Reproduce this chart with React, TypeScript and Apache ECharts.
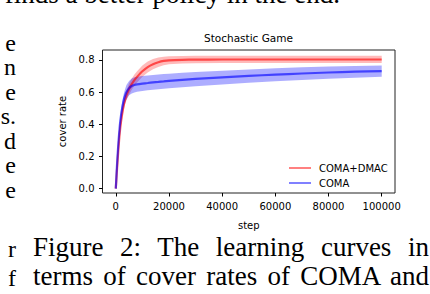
import React, { useEffect, useRef } from "react";
import * as echarts from "echarts";

const steps = [0, 500, 1000, 1500, 2000, 2500, 3000, 3500, 4000, 5000, 6000, 7000, 8000, 10000, 12000, 14000, 16000, 18000, 20000, 25000, 30000, 40000, 50000, 60000, 70000, 80000, 90000, 100000];

const dmacMean = [0, 0.13, 0.25, 0.35, 0.42, 0.475, 0.52, 0.553, 0.58, 0.62, 0.65, 0.675, 0.695, 0.73, 0.756, 0.774, 0.786, 0.794, 0.798, 0.801, 0.802, 0.803, 0.803, 0.803, 0.803, 0.803, 0.803, 0.803];
const dmacHi = [0, 0.15, 0.28, 0.38, 0.45, 0.505, 0.55, 0.583, 0.61, 0.655, 0.685, 0.71, 0.73, 0.765, 0.79, 0.806, 0.815, 0.82, 0.823, 0.825, 0.826, 0.826, 0.826, 0.826, 0.826, 0.826, 0.826, 0.826];
const dmacLo = [0, 0.11, 0.22, 0.32, 0.39, 0.445, 0.49, 0.523, 0.55, 0.585, 0.615, 0.64, 0.66, 0.695, 0.722, 0.742, 0.757, 0.767, 0.773, 0.778, 0.78, 0.781, 0.781, 0.781, 0.781, 0.781, 0.781, 0.781];

const comaMean = [0, 0.16, 0.29, 0.39, 0.46, 0.51, 0.55, 0.578, 0.6, 0.625, 0.638, 0.644, 0.648, 0.653, 0.657, 0.661, 0.664, 0.667, 0.67, 0.676, 0.682, 0.692, 0.701, 0.709, 0.716, 0.722, 0.727, 0.731];
const comaHi = [0, 0.18, 0.32, 0.42, 0.5, 0.55, 0.59, 0.62, 0.645, 0.67, 0.685, 0.692, 0.696, 0.701, 0.704, 0.707, 0.71, 0.713, 0.715, 0.72, 0.725, 0.733, 0.741, 0.748, 0.754, 0.759, 0.763, 0.766];
const comaLo = [0, 0.14, 0.26, 0.36, 0.42, 0.47, 0.51, 0.536, 0.555, 0.58, 0.592, 0.598, 0.602, 0.607, 0.611, 0.615, 0.618, 0.621, 0.624, 0.63, 0.637, 0.648, 0.658, 0.667, 0.676, 0.684, 0.69, 0.695];

const xTicks = [0, 20000, 40000, 60000, 80000, 100000];
const yTicks = [0, 0.2, 0.4, 0.6, 0.8];
const seriesNames = ["COMA+DMAC", "COMA"];

const titleText = "Stochastic Game";
const xName = "step";
const yName = "cover rate";

const topLine = "finds a better policy in the end.";
const leftLetters = ["e", "n", "e", "s.", "d", "e", "e", "r", "f"];
const leftBaselines = [51, 75.5, 100, 124.5, 149, 173.5, 198, 257, 286];
const captionLines = ["Figure 2:  The learning curves in", "terms of cover rates of COMA and"];
const captionBaselines = [257, 286];

const FONT = "DejaVu Sans";
const SERIF = "'Liberation Serif', 'Times New Roman', serif";

function band(hi: number[], lo: number[], fill: string, name: string) {
  return {
    type: "custom",
    name,
    silent: true,
    clip: true,
    z: 1,
    data: [[0, 0]],
    renderItem: (_p: any, api: any) => {
      const pts: number[][] = [];
      for (let i = 0; i < steps.length; i++) pts.push(api.coord([steps[i], hi[i]]));
      for (let i = steps.length - 1; i >= 0; i--) pts.push(api.coord([steps[i], lo[i]]));
      return { type: "polygon", shape: { points: pts }, style: { fill } };
    },
  };
}

function meanLine(vals: number[], color: string, name: string) {
  return {
    type: "line",
    name,
    data: steps.map((s, i) => [s, vals[i]]),
    showSymbol: false,
    symbol: "none",
    smooth: 0.2,
    z: 3,
    lineStyle: { color, width: 2.2 },
    itemStyle: { color },
  };
}

function serifStyle(fs: number, lh: number): React.CSSProperties {
  return {
    position: "absolute",
    fontFamily: SERIF,
    fontSize: fs,
    lineHeight: lh + "px",
    color: "#000",
    whiteSpace: "nowrap",
    margin: 0,
  };
}
// distance from line-box top to baseline for Liberation Serif
function baseOff(fs: number, lh: number) {
  return fs * 0.891 - (fs * 1.107 - lh) / 2;
}

export default function App() {
  const ref = useRef<HTMLDivElement>(null);
  useEffect(() => {
    if (!ref.current) return;
    const chart = echarts.init(ref.current, undefined, { renderer: "svg" });
    chart.setOption({
      animation: false,
      grid: {
        left: 102.5,
        top: 50,
        right: 35,
        bottom: 101,
        show: true,
        borderColor: "#222",
        borderWidth: 1,
        backgroundColor: "transparent",
      },
      xAxis: {
        type: "value",
        min: -5000,
        max: 105000,
        name: xName,
        nameLocation: "middle",
        nameGap: 27,
        nameTextStyle: { fontFamily: FONT, fontSize: 10, color: "#000" },
        axisLine: { show: false, onZero: false },
        axisTick: { show: true, customValues: xTicks, length: 3.5, lineStyle: { color: "#000", width: 1 } },
        axisLabel: {
          customValues: xTicks,
          fontFamily: FONT,
          fontSize: 10,
          color: "#000",
          margin: 8,
          formatter: (v: number) => String(v),
        },
        splitLine: { show: false },
      },
      yAxis: {
        type: "value",
        min: -0.027,
        max: 0.862,
        name: yName,
        nameLocation: "middle",
        nameGap: 31,
        nameTextStyle: { fontFamily: FONT, fontSize: 10, color: "#000" },
        axisLine: { show: false, onZero: false },
        axisTick: { show: true, customValues: yTicks, length: 3.5, lineStyle: { color: "#000", width: 1 } },
        axisLabel: {
          customValues: yTicks,
          fontFamily: FONT,
          fontSize: 10,
          color: "#000",
          margin: 8,
          formatter: (v: number) => v.toFixed(1),
        },
        splitLine: { show: false },
      },
      legend: {
        orient: "vertical",
        left: 288,
        top: 162,
        padding: 0,
        itemWidth: 22,
        itemHeight: 12,
        itemGap: 3,
        textStyle: { fontFamily: FONT, fontSize: 10, color: "#000", lineHeight: 12, padding: [0, 0, 0, 3] },
        data: [
          { name: seriesNames[0], lineStyle: { color: "#ff8080", width: 2 }, itemStyle: { opacity: 0 } },
          { name: seriesNames[1], lineStyle: { color: "#8080ff", width: 2 }, itemStyle: { opacity: 0 } },
        ],
      },
      graphic: [
        {
          type: "text",
          x: 248.5,
          y: 38,
          style: { text: titleText, fontFamily: FONT, fontSize: 10.5, fill: "#000", align: "center", verticalAlign: "middle" },
        },
      ],
      series: [
        band(dmacHi, dmacLo, "rgba(255,0,0,0.27)", "COMA+DMAC range"),
        meanLine(dmacMean, "rgba(255,0,0,0.62)", seriesNames[0]),
        band(comaHi, comaLo, "rgba(0,0,255,0.32)", "COMA range"),
        meanLine(comaMean, "rgba(0,0,255,0.62)", seriesNames[1]),
      ],
    });
    return () => chart.dispose();
  }, []);

  const FS = 27;
  const LFS = 24;
  const LLH = 18;

  return (
    <div style={{ position: "absolute", left: 0, top: 0, width: 430, height: 294, overflow: "hidden", background: "#fff" }}>
      <div style={{ ...serifStyle(FS, FS), left: -40, width: 380, textAlign: "right", top: 3.5 - baseOff(FS, FS) }}>{topLine}</div>
      {leftLetters.map((t, i) => (
        <div
          key={i}
          style={{ ...serifStyle(LFS, LLH), left: 0, width: 16, textAlign: "right", top: leftBaselines[i] - baseOff(LFS, LLH) }}
        >
          {t}
        </div>
      ))}
      {captionLines.map((t, i) => (
        <div
          key={"c" + i}
          style={{
            ...serifStyle(FS, FS),
            left: 33,
            width: 396,
            whiteSpace: "normal",
            textAlign: "justify",
            textAlignLast: "justify",
            top: captionBaselines[i] - baseOff(FS, FS),
          }}
        >
          {t}
        </div>
      ))}
      <div ref={ref} style={{ position: "absolute", left: 0, top: 0, width: 430, height: 294 }} />
    </div>
  );
}
